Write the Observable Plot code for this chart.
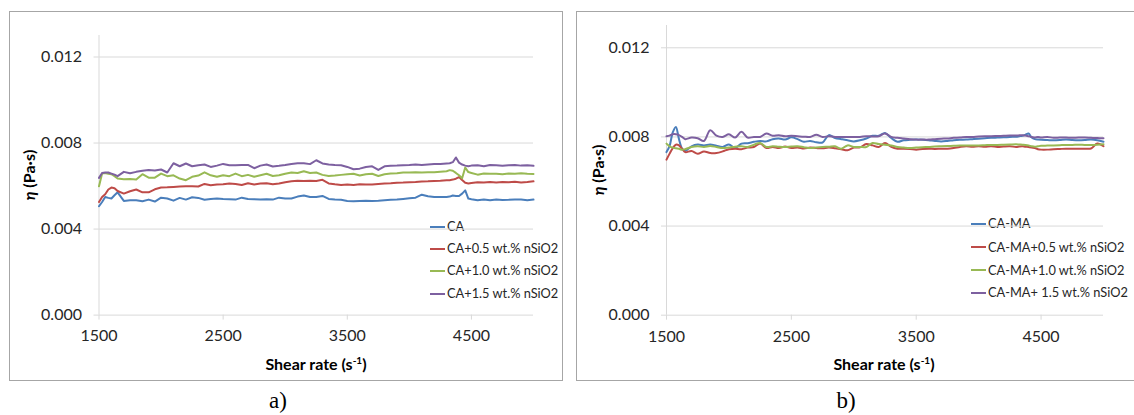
<!DOCTYPE html>
<html>
<head>
<meta charset="utf-8">
<script src="https://cdn.jsdelivr.net/npm/d3@7"></script>
<script src="https://cdn.jsdelivr.net/npm/@observablehq/plot@0.6"></script>
<style>
  body { margin: 0; background: #fff; }
  #wrap { position: relative; width: 1134px; height: 415px; overflow: hidden; background: #fff; font-family: Lato, "Open Sans", sans-serif; color: #262626; }
  .box { position: absolute; top: 11px; height: 368px; border: 1px solid #a6a6a6; overflow: hidden; }
  .chart { position: absolute; }
  .ytitle { position: absolute; transform: translate(-50%, -50%) rotate(-90deg); white-space: nowrap; font-weight: bold; font-size: 16px; color: #000; }
  .xtitle { position: absolute; transform: translate(-50%, -50%); white-space: nowrap; font-weight: bold; font-size: 16px; color: #000; }
  .xtitle sup { font-size: 10px; vertical-align: 6px; }
  .cap { position: absolute; transform: translate(-50%, -50%); font-family: "Liberation Serif", "Times New Roman", serif; font-size: 23px; color: #000; }
  .leg { position: absolute; white-space: nowrap; font-size: 12.8px; color: #262626; line-height: 16px; }
  .leg .sw { display: inline-block; width: 15px; height: 2px; vertical-align: middle; margin-right: 2px; position: relative; top: -1px; }
</style>
</head>
<body>
<div id="wrap"></div>
<script>
// ---- data ----
const shear = [1500,1525,1550,1575,1600,1625,1650,1700,1750,1800,1850,1900,1950,2000,2050,2100,2150,2200,2250,2300,2350,2400,2450,2500,2550,2600,2650,2700,2750,2800,2850,2900,2950,3000,3050,3100,3150,3200,3250,3300,3350,3400,3450,3500,3550,3600,3650,3700,3750,3800,3850,3900,3950,4000,4050,4100,4150,4200,4250,4300,4325,4350,4375,4400,4425,4450,4475,4500,4550,4600,4650,4700,4750,4800,4850,4900,4950,5000];

const namesA = ["CA", "CA+0.5 wt.% nSiO2", "CA+1.0 wt.% nSiO2", "CA+1.5 wt.% nSiO2"];
const namesB = ["CA-MA", "CA-MA+0.5 wt.% nSiO2", "CA-MA+1.0 wt.% nSiO2", "CA-MA+ 1.5 wt.% nSiO2"];
const colors = ["#4A7EBB", "#BE4B48", "#98B954", "#7D60A0"];

const caA = [.00506,.00526,.00549,.00545,.00542,.00557,.00571,
 .00531,.00534,.00534,.00529,.00537,.00528,.00546,.00542,.00532,.00545,.00537,.00548,.00545,.00536,.00540,.00542,.00540,.00539,.00537,.00546,.00540,.00539,.00537,.00539,.00537,.00546,.00542,.00542,.00551,.00556,.00549,.00549,.00554,.00540,.00537,.00536,.00531,.00529,.00531,.00532,.00531,.00532,.00534,.00536,.00537,.00540,.00543,.00546,.00560,.00553,.00549,.00549,.00549,
 .00551,.00556,.00554,.00554,.00565,.00580,.00542,.00539,
 .00534,.00537,.00534,.00537,.00535,.00536,.00538,.00537,.00534,.00537];
const ca05A = [.00526,.00549,.00562,.00584,.00593,.00590,.00577,
 .00565,.00576,.00584,.00571,.00571,.00585,.00593,.00594,.00596,.00598,.00599,.00599,.00598,.00610,.00604,.00607,.00608,.00612,.00610,.00605,.00613,.00607,.00612,.00613,.00608,.00612,.00618,.00622,.00625,.00624,.00625,.00624,.00629,.00612,.00608,.00605,.00607,.00605,.00608,.00607,.00607,.00610,.00612,.00613,.00615,.00616,.00618,.00619,.00621,.00622,.00624,.00625,.00627,
 .00627,.00630,.00634,.00642,.00628,.00615,.00612,.00614,
 .00618,.00616,.00619,.00617,.00619,.00618,.00620,.00617,.00619,.00622];
const ca10A = [.00599,.00658,.00661,.00657,.00655,.00646,.00635,
 .00632,.00633,.00630,.00655,.00639,.00639,.00658,.00646,.00650,.00635,.00627,.00643,.00649,.00664,.00650,.00643,.00650,.00646,.00658,.00646,.00652,.00643,.00650,.00657,.00647,.00650,.00657,.00663,.00661,.00669,.00661,.00663,.00652,.00647,.00649,.00652,.00655,.00657,.00649,.00655,.00657,.00647,.00655,.00658,.00660,.00663,.00663,.00664,.00663,.00664,.00664,.00667,.00669,
 .00674,.00671,.00661,.00650,.00636,.00686,.00665,.00661,
 .00653,.00658,.00657,.00657,.00655,.00658,.00657,.00659,.00657,.00656];
const ca15A = [.00638,.00661,.00663,.00663,.00658,.00653,.00646,
 .00666,.00660,.00666,.00671,.00675,.00672,.00677,.00663,.00706,.00692,.00705,.00692,.00697,.00700,.00689,.00695,.00703,.00697,.00697,.00698,.00698,.00683,.00695,.00700,.00691,.00694,.00698,.00703,.00706,.00706,.00702,.00720,.00705,.00700,.00698,.00697,.00689,.00678,.00681,.00689,.00692,.00675,.00692,.00694,.00695,.00697,.00698,.00700,.00698,.00700,.00702,.00703,.00705,
 .00706,.00711,.00733,.00709,.00700,.00695,.00692,.00695,
 .00697,.00692,.00698,.00697,.00694,.00697,.00698,.00695,.00697,.00694];

const camaB = [.00732,.00760,.00820,.00845,.00790,.00747,.00737,
 .00758,.00766,.00762,.00766,.00760,.00755,.00766,.00750,.00770,.00772,.00778,.00782,.00780,.00790,.00793,.00788,.00798,.00790,.00778,.00782,.00776,.00775,.00808,.00795,.00790,.00785,.00780,.00785,.00793,.00805,.00805,.00818,.00795,.00778,.00785,.00787,.00788,.00787,.00785,.00782,.00780,.00782,.00785,.00787,.00788,.00790,.00792,.00794,.00796,.00797,.00798,.00800,.00801,
 .00803,.00805,.00810,.00815,.00797,.00790,.00788,.00787,
 .00786,.00785,.00786,.00788,.00786,.00785,.00786,.00788,.00785,.00778];
const cama05B = [.00698,.00725,.00750,.00765,.00762,.00747,.00732,
 .00737,.00725,.00735,.00728,.00728,.00735,.00745,.00747,.00745,.00752,.00755,.00770,.00750,.00755,.00750,.00757,.00750,.00753,.00748,.00752,.00750,.00749,.00752,.00749,.00745,.00740,.00752,.00753,.00768,.00762,.00755,.00773,.00755,.00747,.00747,.00746,.00743,.00746,.00747,.00746,.00747,.00747,.00750,.00755,.00758,.00756,.00758,.00756,.00758,.00755,.00757,.00758,.00755,
 .00757,.00758,.00756,.00755,.00752,.00750,.00745,.00743,
 .00743,.00745,.00746,.00747,.00747,.00747,.00747,.00748,.00770,.00758];
const cama10B = [.00770,.00758,.00752,.00749,.00747,.00742,.00745,
 .00755,.00758,.00755,.00759,.00755,.00750,.00753,.00756,.00758,.00755,.00765,.00773,.00755,.00758,.00756,.00755,.00757,.00758,.00754,.00750,.00753,.00755,.00756,.00758,.00747,.00762,.00755,.00755,.00755,.00773,.00768,.00765,.00762,.00755,.00752,.00750,.00752,.00754,.00755,.00757,.00758,.00759,.00760,.00761,.00761,.00762,.00762,.00763,.00764,.00764,.00765,.00766,.00767,
 .00766,.00765,.00764,.00762,.00758,.00756,.00758,.00760,
 .00761,.00762,.00763,.00764,.00764,.00765,.00764,.00764,.00765,.00767];
const cama15B = [.00803,.00806,.00812,.00812,.00808,.00800,.00790,
 .00797,.00794,.00782,.00830,.00806,.00800,.00812,.00797,.00823,.00797,.00800,.00800,.00815,.00805,.00808,.00803,.00805,.00803,.00801,.00800,.00810,.00800,.00803,.00800,.00800,.00800,.00800,.00800,.00803,.00802,.00803,.00815,.00800,.00796,.00793,.00790,.00788,.00788,.00788,.00790,.00792,.00793,.00796,.00797,.00800,.00800,.00802,.00803,.00803,.00804,.00805,.00806,.00806,
 .00807,.00808,.00806,.00803,.00800,.00797,.00800,.00797,
 .00800,.00796,.00797,.00797,.00796,.00797,.00797,.00796,.00795,.00794];

const yTicks = [0, 0.004, 0.008, 0.012];
const xTicks = [1500, 2500, 3500, 4500];

// ---- drawing ----
const wrap = document.getElementById("wrap");

function makePanel(series, names, box, curve) {
  const rows = [];
  series.forEach((vals, i) => vals.forEach((v, j) => rows.push({x: shear[j], y: v, s: names[i]})));
  const svg = Plot.plot({
    width: box.w, height: box.h,
    marginLeft: box.ml, marginRight: box.mr, marginTop: box.mt, marginBottom: box.mb,
    style: {fontFamily: "Lato, 'Open Sans', sans-serif", fontSize: "16px", background: "transparent", overflow: "visible"},
    x: {domain: [1500, 5000], axis: null},
    y: {domain: [0, 0.013], axis: null},
    color: {domain: names, range: colors},
    marks: [
      Plot.gridY(yTicks.slice(1), {stroke: "#d9d9d9", strokeOpacity: 1}),
      Plot.ruleY([0], {stroke: "#d9d9d9"}),
      Plot.ruleX([1500], {stroke: "#d9d9d9"}),
      Plot.axisY(yTicks, {tickSize: 5, tickPadding: 12, tickFormat: d3.format(".3f"), stroke: "#d9d9d9", fill: "#262626", label: null}),
      Plot.axisX(xTicks, {tickSize: 5, tickPadding: 10, tickFormat: d => String(d), stroke: "#d9d9d9", fill: "#262626", label: null}),
      Plot.line(rows, {x: "x", y: "y", z: "s", stroke: "s", strokeWidth: 2, curve})
    ]
  });
  svg.classList.add("chart");
  svg.style.left = box.x + "px";
  svg.style.top = box.y + "px";
  return svg;
}

function el(cls, html, x, y) {
  const d = document.createElement("div");
  d.className = cls;
  d.innerHTML = html;
  d.style.left = x + "px";
  d.style.top = y + "px";
  return d;
}

// panel frames
const boxA = document.createElement("div");
boxA.className = "box"; boxA.style.left = "9px"; boxA.style.width = "552px";
const boxB = document.createElement("div");
boxB.className = "box"; boxB.style.left = "576px"; boxB.style.width = "600px";
wrap.appendChild(boxA);
wrap.appendChild(boxB);

wrap.appendChild(makePanel([caA, ca05A, ca10A, ca15A], namesA,
  {x: 10, y: 12, w: 551, h: 367, ml: 88.5, mr: 28, mt: 23, mb: 64.4}, "linear"));
wrap.appendChild(makePanel([camaB, cama05B, cama10B, cama15B], namesB,
  {x: 577, y: 12, w: 557, h: 367, ml: 89, mr: 31, mt: 13, mb: 64.3}, "catmull-rom"));

// axis titles
wrap.appendChild(el("ytitle", "<i>η</i> (Pa·s)", 28, 175));
wrap.appendChild(el("ytitle", "<i>η</i> (Pa·s)", 597, 170));
wrap.appendChild(el("xtitle", "Shear rate (s<sup>-1</sup>)", 316, 363));
wrap.appendChild(el("xtitle", "Shear rate (s<sup>-1</sup>)", 884, 363));

// captions
wrap.appendChild(el("cap", "a)", 278, 401));
wrap.appendChild(el("cap", "b)", 846, 401));

// legends (positions relative to their frames)
const legA = [226, 248, 270, 293];
namesA.forEach((n, i) => {
  const d = el("leg", `<span class="sw" style="background:${colors[i]}"></span>${n}`, 430 - 10, legA[i] - 12 - 8);
  boxA.appendChild(d);
});
const legB = [223, 246.5, 269.5, 292];
namesB.forEach((n, i) => {
  const d = el("leg", `<span class="sw" style="background:${colors[i]}"></span>${n}`, 971 - 577, legB[i] - 12 - 8);
  boxB.appendChild(d);
});
</script>
</body>
</html>
